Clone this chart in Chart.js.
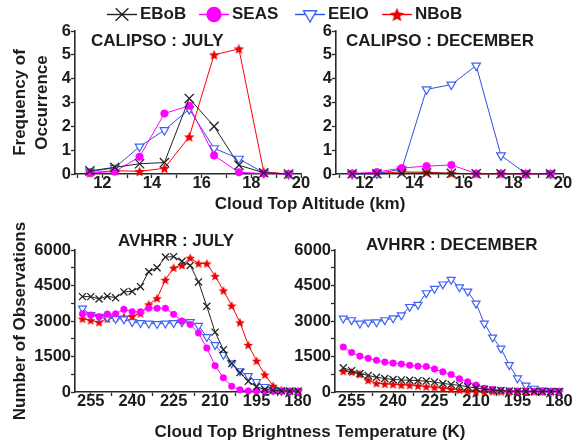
<!DOCTYPE html>
<html>
<head>
<meta charset="utf-8">
<script src="https://cdn.jsdelivr.net/npm/chart.js@4.4.1/dist/chart.umd.min.js"></script>
<style>
  html, body { margin: 0; padding: 0; background: #fff; }
  #fig { position: relative; width: 572px; height: 446px; overflow: hidden;
         font-family: 'Liberation Sans', Arial, sans-serif; font-weight: bold; color: #1c1c1c; }
  #fig canvas { position: absolute; }
  .axis-title { position: absolute; font-size: 17px; line-height: 1; white-space: nowrap;
                transform: translate(-50%, -50%); }
</style>
</head>
<body>
<div id="fig">
  <canvas id="calipsoJuly" width="320" height="180" style="left:0;top:18px"></canvas>
  <canvas id="calipsoDec" width="282" height="180" style="left:290px;top:18px"></canvas>
  <canvas id="avhrrJuly" width="320" height="212" style="left:0;top:212px"></canvas>
  <canvas id="avhrrDec" width="282" height="180" style="left:290px;top:232px"></canvas>
  <canvas id="key" width="572" height="30" style="left:0;top:0"></canvas>
  <div class="axis-title" style="left:310px;top:203px">Cloud Top Altitude (km)</div>
  <div class="axis-title" style="left:310px;top:431px">Cloud Top Brightness Temperature (K)</div>
</div>
<script>
// ---- CALIPSO cloud-top altitude bins (km) and frequency of occurrence ----
const altitudeKm = [11.5, 12.5, 13.5, 14.5, 15.5, 16.5, 17.5, 18.5, 19.5];
const calipsoJulyEBoB = [0.13, 0.28, 0.43, 0.48, 3.17, 2.0, 0.37, 0.05, 0.0];
const calipsoJulySEAS = [0.05, 0.1, 0.72, 2.54, 2.86, 0.78, 0.07, 0.02, 0.0];
const calipsoJulyEEIO = [0.1, 0.26, 1.15, 1.84, 2.72, 1.08, 0.64, 0.05, 0.0];
const calipsoJulyNBoB = [0.05, 0.14, 0.11, 0.24, 1.56, 5.0, 5.25, 0.09, 0.0];
const calipsoDecEBoB = [0.01, 0.01, 0.03, 0.04, 0.03, 0.01, 0.01, 0.01, 0.01];
const calipsoDecSEAS = [0.02, 0.08, 0.25, 0.33, 0.38, 0.02, 0.02, 0.01, 0.01];
const calipsoDecEEIO = [0.0, 0.02, 0.2, 3.55, 3.75, 4.55, 0.78, 0.02, 0.01];
const calipsoDecNBoB = [0.02, 0.02, 0.09, 0.07, 0.03, 0.01, 0.01, 0.01, 0.01];

// ---- AVHRR cloud-top brightness temperature bins (K) and observation counts ----
const brightnessK = [258, 255, 252, 249, 246, 243, 240, 237, 234, 231, 228, 225, 222, 219,
                     216, 213, 210, 207, 204, 201, 198, 195, 192, 189, 186, 183, 180];
const avhrrJulyEBoB = [4030, 4030, 3930, 4050, 3980, 4230, 4250, 4450, 5080, 5250, 5700, 5720, 5520, 5350,
                       4650, 3620, 2530, 1790, 1200, 820, 450, 220, 110, 70, 50, 40, 40];
const avhrrJulySEAS = [3300, 3250, 3180, 3290, 3300, 3490, 3390, 3390, 3540, 3540, 3540, 3280, 3000, 2850,
                       2490, 1860, 1110, 600, 240, 90, 45, 40, 35, 30, 30, 30, 30];
const avhrrJulyEEIO = [3530, 3260, 3180, 3150, 3100, 3080, 2960, 2920, 2900, 2880, 2900, 2920, 2950, 2960,
                       2800, 2330, 1990, 1580, 1220, 880, 680, 430, 220, 90, 50, 40, 30];
const avhrrJulyNBoB = [3100, 3030, 2950, 3100, 3150, 3180, 3210, 3320, 3700, 3960, 4740, 5250, 5360, 5670,
                       5430, 5430, 4900, 4290, 3650, 2940, 1990, 1320, 735, 260, 90, 50, 40];
const avhrrDecEBoB = [1020, 900, 780, 700, 620, 570, 530, 510, 495, 480, 460, 420, 360, 320,
                      280, 220, 170, 120, 80, 60, 40, 30, 30, 25, 25, 25, 25];
const avhrrDecSEAS = [1900, 1670, 1515, 1425, 1340, 1263, 1220, 1180, 1130, 1090, 1075, 970, 850, 737,
                      555, 428, 290, 160, 113, 70, 45, 40, 35, 30, 30, 30, 30];
const avhrrDecEEIO = [3110, 3040, 2900, 2940, 2950, 3040, 3120, 3250, 3600, 3690, 4180, 4370, 4550, 4750,
                      4430, 4250, 3740, 2900, 2310, 1845, 1145, 580, 280, 145, 70, 45, 40];
const avhrrDecNBoB = [880, 850, 750, 500, 370, 345, 325, 300, 290, 265, 230, 200, 160, 125,
                      90, 55, 40, 30, 25, 20, 20, 20, 20, 20, 20, 20, 20];

// ---- tick values ----
const altitudeTicks = [11, 12, 13, 14, 15, 16, 17, 18, 19, 20];
const altitudeTickLabels = [12, 14, 16, 18, 20];
const frequencyTicks = [0, 1, 2, 3, 4, 5, 6];
const brightnessTicks = [255, 247.5, 240, 232.5, 225, 217.5, 210, 202.5, 195, 187.5, 180];
const brightnessTickLabels = [255, 240, 225, 210, 195, 180];
const countTicks = [0, 750, 1500, 2250, 3000, 3750, 4500, 5250, 6000];
const countTickLabels = [0, 1500, 3000, 4500, 6000];

const regionNames = ['EBoB', 'SEAS', 'EEIO', 'NBoB'];

// ---- styling ----
const FONT = "'Liberation Sans', Arial, sans-serif";
const TXT = '#1c1c1c';
const AXIS = '#2a2a2a';

function starMark(size, color) {
  const c = document.createElement('canvas');
  c.width = size; c.height = size;
  const g = c.getContext('2d');
  const cx = size / 2, cy = size / 2 + size * 0.05, R = size / 2, r = R * 0.45;
  g.beginPath();
  for (let i = 0; i < 10; i++) {
    const a = -Math.PI / 2 + i * Math.PI / 5;
    const rad = i % 2 === 0 ? R : r;
    g.lineTo(cx + rad * Math.cos(a), cy + rad * Math.sin(a));
  }
  g.closePath();
  g.fillStyle = color;
  g.fill();
  return c;
}

const looks = {
  EBoB: { line: '#222222', fill: '#222222', edge: '#222222', edgeW: 1.3, style: 'crossRot', rot: 0,
          r: { big: 6.5, small: 5 }, key: 9 },
  SEAS: { line: '#ff00ff', fill: '#ff00ff', edge: '#ff00ff', edgeW: 0.5, style: 'circle', rot: 0,
          r: { big: 3.8, small: 3.3 }, key: 7 },
  EEIO: { line: '#2f4fe0', fill: '#ffffff', edge: '#3f62f5', edgeW: 1.2, style: 'triangle', rot: 180,
          r: { big: 5, small: 4.6 }, key: 7.5 },
  NBoB: { line: '#ff0000', fill: '#ee0000', edge: '#ee0000', edgeW: 0, rot: 0,
          img: { big: starMark(11, '#ee0000'), small: starMark(10, '#ee0000'), key: starMark(15, '#ee0000') } }
};

function series(name, xs, ys, size) {
  const s = looks[name];
  return {
    label: name,
    data: xs.map((x, i) => ({ x: x, y: ys[i] })),
    borderColor: s.line,
    borderWidth: 1,
    tension: 0,
    clip: false,
    pointStyle: s.img ? s.img[size] : s.style,
    pointRadius: s.img ? 5 : s.r[size],
    pointRotation: s.rot,
    pointBackgroundColor: s.fill,
    pointBorderColor: s.edge,
    pointBorderWidth: s.edgeW,
    keyStyle: s.img ? s.img.key : s.style,
    keyRadius: s.img ? 7 : s.key
  };
}

// panel label written inside the plotting area
const panelLabel = {
  id: 'panelLabel',
  afterDraw(chart, args, opts) {
    const { ctx, chartArea } = chart;
    ctx.save();
    ctx.font = 'bold 17px ' + FONT;
    ctx.fillStyle = TXT;
    ctx.textAlign = 'left';
    ctx.textBaseline = 'middle';
    ctx.fillText(opts.text, chartArea.left + opts.dx, chartArea.top + opts.dy);
    ctx.restore();
  }
};

function makeAxis(opts) {
  const isX = opts.axis === 'x';
  return {
    type: 'linear',
    min: opts.min,
    max: opts.max,
    reverse: !!opts.reverse,
    title: opts.title ? {
      display: true, text: opts.title, color: TXT, padding: { top: 9, bottom: 0 },
      font: { family: FONT, size: 17, weight: 'bold', lineHeight: 1.3 }
    } : { display: false },
    afterBuildTicks(scale) { scale.ticks = opts.ticks.map(v => ({ value: v })); },
    afterFit(scale) {
      if (isX) { scale.height = opts.size; scale.paddingLeft = 0; scale.paddingRight = 0; }
      else { scale.width = opts.size; scale.paddingTop = 0; scale.paddingBottom = 0; }
    },
    border: { display: true, color: AXIS, width: 1.6 },
    grid: { display: true, drawOnChartArea: false, drawTicks: true, tickLength: 4,
            tickColor: AXIS, tickWidth: 1.3 },
    ticks: {
      autoSkip: false, maxRotation: 0, minRotation: 0,
      padding: isX ? -3.2 : 0,
      color: TXT,
      font: { family: FONT, size: 16.5, weight: 'bold', lineHeight: 1 },
      callback: (v) => (opts.labels.indexOf(v) >= 0 ? String(v) : '')
    }
  };
}

function panel(id, datasets, cfg) {
  return new Chart(document.getElementById(id), {
    type: 'line',
    data: { datasets: datasets },
    options: {
      responsive: false,
      animation: false,
      devicePixelRatio: 1,
      events: [],
      layout: { padding: { top: cfg.padTop, right: cfg.padRight, left: 0, bottom: 0 } },
      plugins: {
        legend: { display: false },
        tooltip: { enabled: false },
        panelLabel: cfg.label
      },
      scales: {
        x: makeAxis(Object.assign({ axis: 'x' }, cfg.x)),
        y: makeAxis(Object.assign({ axis: 'y' }, cfg.y))
      }
    },
    plugins: [panelLabel]
  });
}

const altitudeX = (min) => ({ min: min, max: 20, ticks: altitudeTicks, labels: altitudeTickLabels, size: 24 });
const brightX = (max, h) => ({ min: 180, max: max, reverse: true, ticks: brightnessTicks, labels: brightnessTickLabels, size: h });
const freqY = (w, title) => ({ min: 0, max: 6, ticks: frequencyTicks, labels: frequencyTicks, size: w, title: title });
const countY = (w, title) => ({ min: 0, max: 6000, ticks: countTicks, labels: countTickLabels, size: w, title: title });

panel('calipsoJuly', [
  series('EBoB', altitudeKm, calipsoJulyEBoB, 'big'),
  series('SEAS', altitudeKm, calipsoJulySEAS, 'big'),
  series('EEIO', altitudeKm, calipsoJulyEEIO, 'big'),
  series('NBoB', altitudeKm, calipsoJulyNBoB, 'big')
], {
  padTop: 13, padRight: 19,
  label: { text: 'CALIPSO : JULY', dx: 16, dy: 10.7 },
  x: altitudeX(10.9),
  y: freqY(75, ['Frequency of', 'Occurrence'])
});

panel('calipsoDec', [
  series('EBoB', altitudeKm, calipsoDecEBoB, 'big'),
  series('SEAS', altitudeKm, calipsoDecSEAS, 'big'),
  series('EEIO', altitudeKm, calipsoDecEEIO, 'big'),
  series('NBoB', altitudeKm, calipsoDecNBoB, 'big')
], {
  padTop: 13, padRight: 9,
  label: { text: 'CALIPSO : DECEMBER', dx: 10, dy: 10.7 },
  x: altitudeX(10.85),
  y: freqY(46, null)
});

panel('avhrrJuly', [
  series('EBoB', brightnessK, avhrrJulyEBoB, 'small'),
  series('SEAS', brightnessK, avhrrJulySEAS, 'small'),
  series('EEIO', brightnessK, avhrrJulyEEIO, 'small'),
  series('NBoB', brightnessK, avhrrJulyNBoB, 'small')
], {
  padTop: 38, padRight: 22,
  label: { text: 'AVHRR : JULY', dx: 43, dy: -8.5 },
  x: brightX(260.7, 32),
  y: countY(75, 'Number of Observations')
});

panel('avhrrDec', [
  series('EBoB', brightnessK, avhrrDecEBoB, 'small'),
  series('SEAS', brightnessK, avhrrDecSEAS, 'small'),
  series('EEIO', brightnessK, avhrrDecEEIO, 'small'),
  series('NBoB', brightnessK, avhrrDecNBoB, 'small')
], {
  padTop: 18, padRight: 13,
  label: { text: 'AVHRR : DECEMBER', dx: 31, dy: -4.5 },
  x: brightX(261, 20),
  y: countY(45, null)
});

// shared key across the top of the figure
const seriesKey = {
  id: 'seriesKey',
  afterDraw(chart, args, opts) {
    const ctx = chart.ctx;
    chart.data.datasets.forEach((ds, i) => {
      const x0 = opts.starts[i], y = opts.y, len = opts.lineLen;
      ctx.save();
      ctx.strokeStyle = ds.borderColor;
      ctx.lineWidth = 1.4;
      ctx.beginPath(); ctx.moveTo(x0, y); ctx.lineTo(x0 + len, y); ctx.stroke();
      ctx.fillStyle = ds.pointBackgroundColor;
      ctx.strokeStyle = ds.pointBorderColor;
      ctx.lineWidth = Math.max(ds.pointBorderWidth, 1.4);
      Chart.helpers.drawPoint(ctx, {
        pointStyle: ds.keyStyle, radius: ds.keyRadius, rotation: ds.pointRotation,
        borderWidth: ds.pointBorderWidth > 0 ? Math.max(ds.pointBorderWidth, 1.4) : 0
      }, x0 + len / 2, y);
      ctx.fillStyle = TXT;
      ctx.font = 'bold 17px ' + FONT;
      ctx.textAlign = 'left';
      ctx.textBaseline = 'middle';
      ctx.fillText(ds.label, x0 + len + 3, y);
      ctx.restore();
    });
  }
};

new Chart(document.getElementById('key'), {
  type: 'line',
  data: { datasets: regionNames.map(n => series(n, [], [], 'big')) },
  options: {
    responsive: false, animation: false, devicePixelRatio: 1, events: [],
    layout: { padding: 0 },
    plugins: { legend: { display: false }, tooltip: { enabled: false },
               seriesKey: { starts: [107, 199, 295, 382], y: 14.5, lineLen: 30 } },
    scales: { x: { display: false, type: 'linear' }, y: { display: false } }
  },
  plugins: [seriesKey]
});
</script>
</body>
</html>
